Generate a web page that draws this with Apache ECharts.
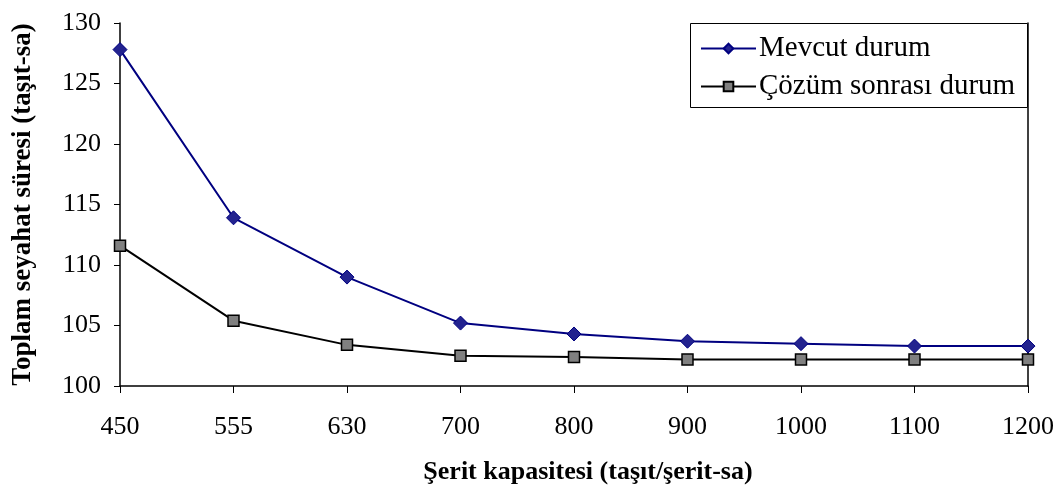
<!DOCTYPE html>
<html>
<head>
<meta charset="utf-8">
<script src="https://cdn.jsdelivr.net/npm/echarts@6/dist/echarts.min.js"></script>
<style>
  html, body { margin: 0; padding: 0; background: #ffffff; }
  #chart { width: 1064px; height: 496px; }
</style>
</head>
<body>
<div id="chart"></div>
<script>
// Lane capacity categories (vehicles/lane-hour)
var capacities = ['450', '555', '630', '700', '800', '900', '1000', '1100', '1200'];
// Total travel time, current situation (vehicle-hours)
var currentState = [127.8, 113.9, 109.0, 105.2, 104.3, 103.7, 103.5, 103.3, 103.3];
// Total travel time after the solution (vehicle-hours)
var afterSolution = [111.6, 105.4, 103.4, 102.5, 102.4, 102.2, 102.2, 102.2, 102.2];

var seriesNames = ['Mevcut durum', 'Çözüm sonrası durum'];
var xTitle = 'Şerit kapasitesi (taşıt/şerit-sa)';
var yTitle = 'Toplam seyahat süresi (taşıt-sa)';

var serif = '"Liberation Serif", "DejaVu Serif", serif';
var chart = echarts.init(document.getElementById('chart'), null, { renderer: 'canvas' });

chart.setOption({
  animation: false,
  backgroundColor: '#ffffff',
  textStyle: { fontFamily: serif, color: '#000000' },
  grid: { left: 120, right: 36, top: 23, bottom: 110, containLabel: false },
  graphic: [{
    type: 'rect',
    z: 5,
    shape: { x: 690.5, y: 23.5, width: 337, height: 84 },
    style: { fill: '#ffffff', stroke: '#000000', lineWidth: 1 }
  }],
  legend: {
    orient: 'vertical',
    left: 700,
    top: 34,
    z: 10,
    padding: 0,
    itemGap: 9,
    itemWidth: 55,
    itemHeight: 12,
    textStyle: { fontFamily: serif, fontSize: 29, color: '#000000', padding: [0, 0, 0, -2] },
    data: seriesNames
  },
  xAxis: {
    type: 'category',
    data: capacities,
    boundaryGap: false,
    name: xTitle,
    nameLocation: 'middle',
    nameGap: 73,
    nameTextStyle: { fontFamily: serif, fontSize: 26, fontWeight: 'bold', color: '#000000', padding: [0, 0, 0, 28] },
    axisLine: { lineStyle: { color: '#000000', width: 1.5 } },
    axisTick: { show: true, length: 7, lineStyle: { color: '#000000', width: 1 } },
    axisLabel: { fontFamily: serif, fontSize: 26, color: '#000000', margin: 28 },
    splitLine: { show: false }
  },
  yAxis: [{
    type: 'value',
    min: 100,
    max: 130,
    interval: 5,
    name: yTitle,
    nameLocation: 'middle',
    nameGap: 83,
    nameTextStyle: { fontFamily: serif, fontSize: 27, fontWeight: 'bold', color: '#000000' },
    axisLine: { show: true, lineStyle: { color: '#000000', width: 1.5 } },
    axisTick: { show: true, length: 6, lineStyle: { color: '#000000', width: 1 } },
    axisLabel: { fontFamily: serif, fontSize: 26, color: '#000000', margin: 19 },
    splitLine: { show: false }
  }, {
    type: 'value',
    position: 'right',
    min: 100,
    max: 130,
    interval: 5,
    axisLine: { show: true, lineStyle: { color: '#000000', width: 1.5 } },
    axisTick: { show: false },
    axisLabel: { show: false },
    splitLine: { show: false }
  }],
  series: [{
    name: seriesNames[0],
    type: 'line',
    data: currentState,
    yAxisIndex: 0,
    symbol: 'diamond',
    symbolSize: 14,
    z: 3,
    lineStyle: { color: '#000080', width: 2 },
    itemStyle: { color: '#23238f', borderColor: '#000080', borderWidth: 1 }
  }, {
    name: seriesNames[1],
    type: 'line',
    data: afterSolution,
    yAxisIndex: 0,
    symbol: 'rect',
    symbolSize: 11,
    z: 2,
    lineStyle: { color: '#000000', width: 2 },
    itemStyle: { color: '#808080', borderColor: '#000000', borderWidth: 1.5 }
  }]
});
</script>
</body>
</html>
